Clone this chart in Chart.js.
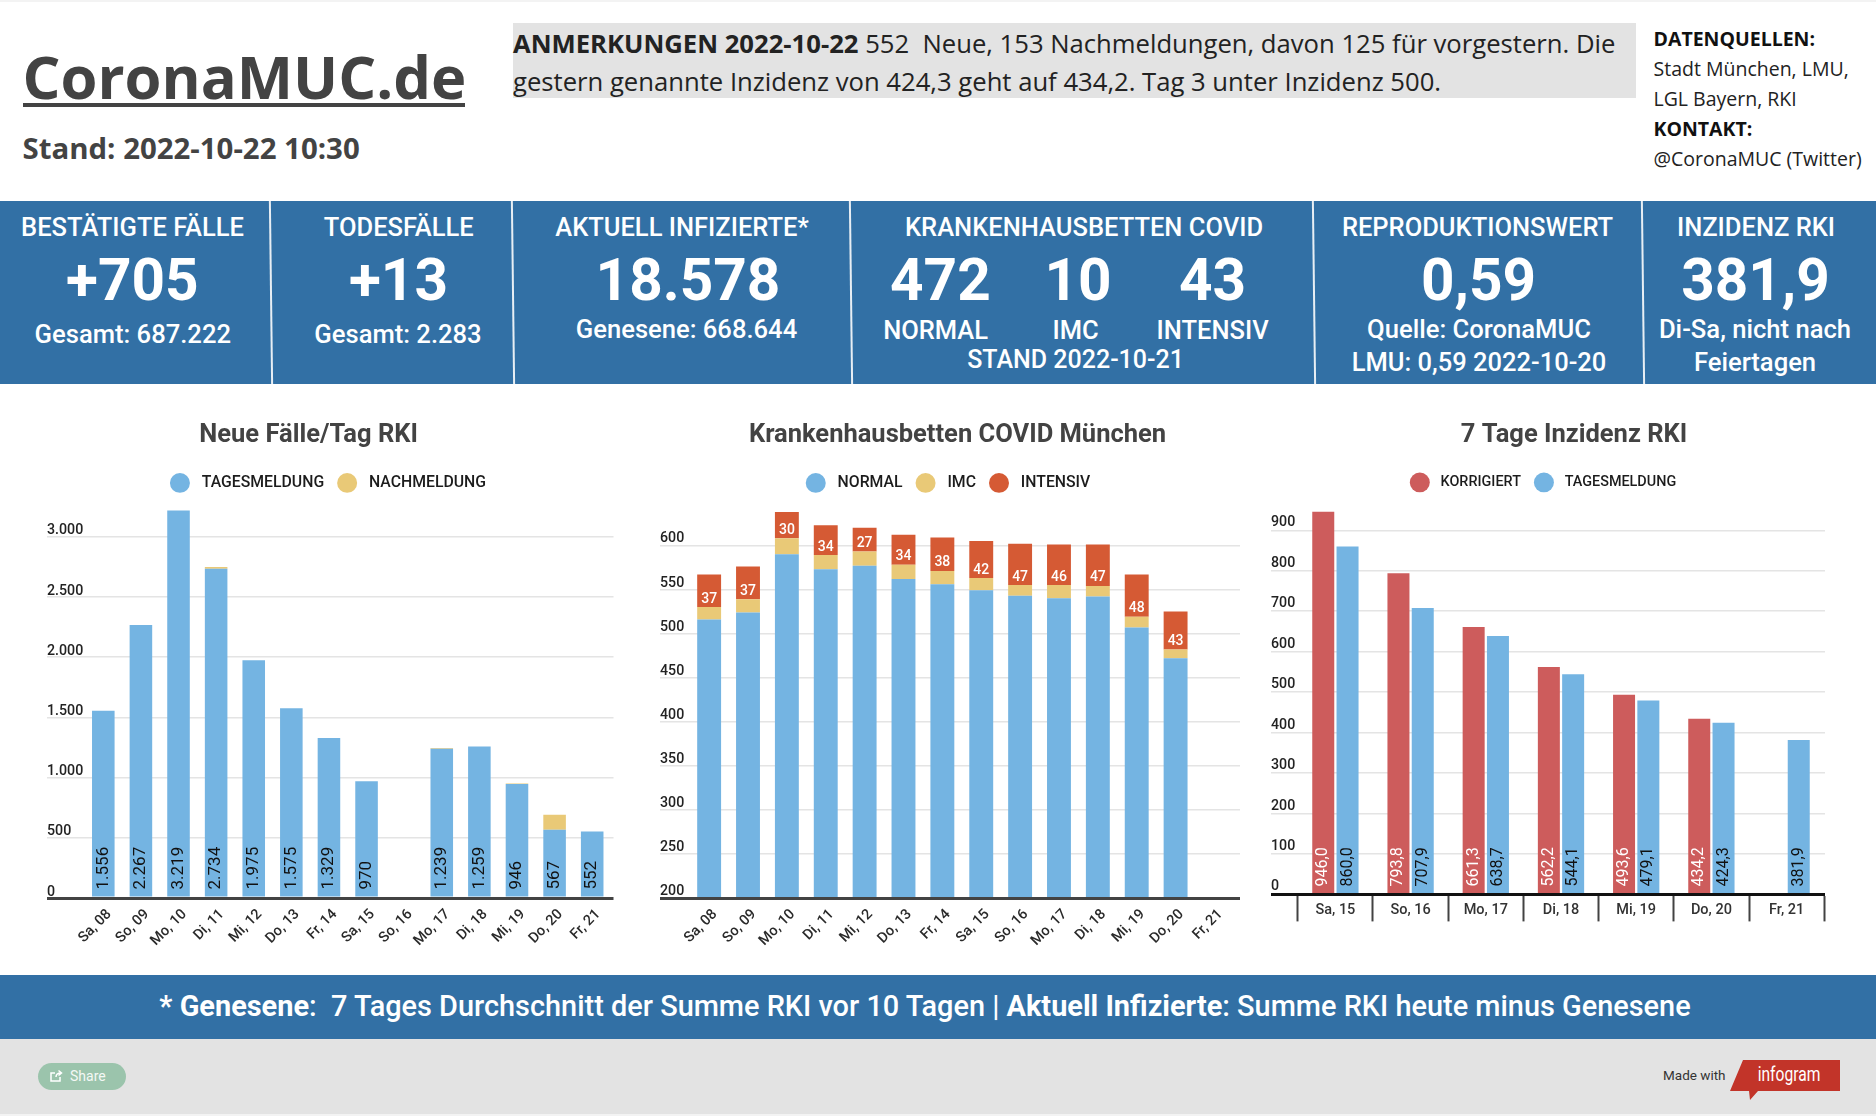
<!DOCTYPE html>
<html lang="de"><head><meta charset="utf-8"><title>CoronaMUC.de</title>
<script src="https://cdn.jsdelivr.net/npm/chart.js@4"></script>
<style>
html,body{margin:0;padding:0;background:#fff;}
#page{position:relative;width:1876px;height:1116px;overflow:hidden;background:#fff;}
.box{position:absolute;}
.t{position:absolute;white-space:pre;line-height:1;}
canvas{position:absolute;}
</style></head><body><div id="page">
<div class="box" style="left:0;top:0;width:1876px;height:2px;background:#f3f3f3"></div>
<div class="box" style="left:513px;top:23px;width:1122.500px;height:75px;background:#e3e3e3"></div>
<div class="box" style="left:23px;top:103px;width:442px;height:4px;background:#434343"></div>
<div class="box" style="left:0;top:201px;width:1876px;height:183px;background:#3270a5"></div>
<div class="box" style="left:0;top:975px;width:1876px;height:64px;background:#3270a5"></div>
<div class="box" style="left:0;top:1039px;width:1876px;height:75px;background:#e3e3e3"></div>
<div class="box" style="left:0;top:1114px;width:1876px;height:2px;background:#f3f3f3"></div>
<div class="box" style="left:38px;top:1063px;width:88px;height:27px;border-radius:14px;background:#9bc4ac"></div>
<div class="box" style="left:1730px;top:1060px;width:110px;height:40px;background:#c23429;clip-path:polygon(13px 0,110px 0,110px 31px,28px 31px,20px 40px,19px 31px,0 31px)"></div>
<svg class="box" style="left:49px;top:1069px" width="14" height="14" viewBox="0 0 14 14"><path d="M11 8v4H2V4h4M7 8c0-3 2-4 5-4M9.500 1.500 12.500 4 9.500 6.500" fill="none" stroke="#fff" stroke-width="1.500"/></svg>
<canvas id="c1" width="630" height="560" style="left:0;top:400px;width:630px;height:560px"></canvas>
<canvas id="c2" width="630" height="560" style="left:630px;top:400px;width:630px;height:560px"></canvas>
<canvas id="c3" width="626" height="560" style="left:1250px;top:400px;width:626px;height:560px"></canvas>
</div>
<script>
// ---- chart data ----
const days14 = ["Sa, 08","So, 09","Mo, 10","Di, 11","Mi, 12","Do, 13","Fr, 14","Sa, 15","So, 16","Mo, 17","Di, 18","Mi, 19","Do, 20","Fr, 21"];
const days7 = ["Sa, 15","So, 16","Mo, 17","Di, 18","Mi, 19","Do, 20","Fr, 21"];
const tagesmeldung = [1556,2267,3219,2734,1975,1575,1329,970,null,1239,1259,946,567,552];
const nachmeldung = [null,null,null,15,null,null,null,null,null,7,null,6,125,null];
const normal = [516,524,590,573,577,562,556,549,543,540,542,507,472,null];
const imc = [14,15,18,16,16,16,15,14,12,15,12,12,10,null];
const intensiv = [37,37,30,34,27,34,38,42,47,46,47,48,43,null];
const korrigiert = [946.0,793.8,661.3,562.2,493.6,434.2,null];
const inzidenzTages = [860.0,707.9,638.7,544.1,479.1,424.3,381.9];
const faelleTicks = [0,500,1000,1500,2000,2500,3000];
const bettenTicks = [200,250,300,350,400,450,500,550,600];
const inzidenzTicks = [0,100,200,300,400,500,600,700,800,900];

// ---- colours ----
const BLUE='#74b4e2', YELLOW='#e9c977', ORANGE='#d55a34', RED='#cd5c5c', GRID='#e4e4e4', DARK='#434343';

// ---- page text (Roboto / Open Sans, positioned by baseline) ----
const page=document.getElementById('page');
function txt(html,x,base,size,opt){
  opt=opt||{};
  const fam=opt.fam||'Roboto';
  const k=fam==='Roboto'?0.8415:0.888;
  const d=document.createElement('div');d.className='t';d.innerHTML=html;
  d.style.fontFamily="'"+fam+"',sans-serif";
  d.style.fontSize=size+'px';d.style.fontWeight=opt.w||400;d.style.color=opt.c||'#fff';
  d.style.top=(base-k*size)+'px';
  d.style.left=x+'px';
  if(opt.center)d.style.transform='translateX(-50%)'+(opt.sx?' scaleX('+opt.sx+')':'');
  page.appendChild(d);
}
txt('CoronaMUC.de',22.500,99,59.700,{fam:'Open Sans',w:700,c:DARK});
txt('Stand: 2022-10-22 10:30',22.500,160.500,29.400,{fam:'Open Sans',w:700,c:DARK});
txt('<b>ANMERKUNGEN 2022-10-22</b> 552 \u00a0Neue, 153 Nachmeldungen, davon 125 für vorgestern. Die',513,54,25.650,{fam:'Open Sans',c:'#222'});
txt('gestern genannte Inzidenz von 424,3 geht auf 434,2. Tag 3 unter Inzidenz 500.',513,91.500,25.650,{fam:'Open Sans',c:'#222'});
txt('DATENQUELLEN:',1653.500,46,19.500,{fam:'Open Sans',w:700,c:'#111'});
txt('Stadt München, LMU,',1653.500,76,19.500,{fam:'Open Sans',c:'#222'});
txt('LGL Bayern, RKI',1653.500,106,19.500,{fam:'Open Sans',c:'#222'});
txt('KONTAKT:',1653.500,136.500,19.500,{fam:'Open Sans',w:700,c:'#111'});
txt('@CoronaMUC (Twitter)',1653.500,166.500,19.500,{fam:'Open Sans',c:'#222'});
const C={center:true,w:500}, B={center:true,w:700};
const HB=236, BB=300.300, SB=339;
txt('BESTÄTIGTE FÄLLE',132.500,HB,25.500,C);
txt('+705',132.300,BB,58.500,B);
txt('Gesamt: 687.222',132.800,343.500,25.600,C);
txt('TODESFÄLLE',398.700,HB,25.500,C);
txt('+13',398.500,BB,58.500,B);
txt('Gesamt: 2.283',398,343.500,25.600,C);
txt('AKTUELL INFIZIERTE*',682,HB,25.500,C);
txt('18.578',688,BB,58.500,B);
txt('Genesene: 668.644',686.500,SB,25.600,C);
txt('KRANKENHAUSBETTEN COVID',1084,HB,25.500,C);
txt('472',940.400,BB,58.500,B);
txt('10',1078,BB,58.500,B);
txt('43',1212.600,BB,58.500,B);
txt('NORMAL',935.600,SB,25.500,C);
txt('IMC',1075.600,SB,25.500,C);
txt('INTENSIV',1212.600,SB,25.500,C);
txt('STAND 2022-10-21',1075.600,368.200,25,C);
txt('REPRODUKTIONSWERT',1477.500,HB,25.500,C);
txt('0,59',1478.500,BB,58.500,B);
txt('Quelle: CoronaMUC',1479,SB,25.600,C);
txt('LMU: 0,59 2022-10-20',1479,371.700,25.500,C);
txt('INZIDENZ RKI',1756,HB,25.500,C);
txt('381,9',1755.500,BB,58.500,B);
txt('Di-Sa, nicht nach',1755,SB,25.600,C);
txt('Feiertagen',1755,371.700,25.600,C);
txt('<b>* Genesene</b>: \u00a07 Tages Durchschnitt der Summe RKI vor 10 Tagen | <b>Aktuell Infizierte</b>: Summe RKI heute minus Genesene',925,1016.500,28.900,C);
txt('Share',70,1081,14,{c:'#f4f8f5'});
txt('Made with',1663,1080,13.500,{c:'#333'});
txt('infogram',1789,1081,20,{center:true,sx:0.78,w:400});
[270,512,850,1313,1641.500].forEach(x=>{
  const d=document.createElement('div');d.className='box';
  d.style.cssText='left:'+x+'px;top:201px;width:2px;height:183px;background:#e8eef4;transform:rotate(-0.7deg)';
  page.appendChild(d);
});

// ---- chart helpers ----
const tune={id:'tune',afterLayout(chart,args,o){
  const a=chart.chartArea;
  a.left=o.gridLeft; a.right=o.gridRight;
  const t=chart.titleBlock,l=chart.legend;
  const dt=o.titleX-(t.left+t.right)/2; t.left+=dt; t.right+=dt;
  const dl=o.legendX-(l.left+l.right)/2; l.left+=dl; l.right+=dl;
}};
const valueLabels={id:'valueLabels',afterDatasetsDraw(chart){
  const ctx=chart.ctx;
  chart.data.datasets.forEach((ds,i)=>{
    const v=ds.valueLabel; if(!v) return;
    chart.getDatasetMeta(i).data.forEach((el,j)=>{
      const val=ds.data[j]; if(val==null) return;
      ctx.save();
      ctx.font=v.font; ctx.fillStyle=v.color;
      ctx.translate(el.x,el.base-v.off);
      if(v.rotate){ctx.rotate(-Math.PI/2);ctx.textAlign='left';}
      else ctx.textAlign='center';
      ctx.textBaseline='middle';
      ctx.fillText(v.fmt(val),0,0);
      ctx.restore();
    });
  });
}};
const de0=v=>v.toLocaleString('de-DE');
const de1=v=>v.toLocaleString('de-DE',{minimumFractionDigits:1,maximumFractionDigits:1});
function makeChart(id,cfg){
  const zero=cfg.yTicks[0];
  return new Chart(document.getElementById(id),{
    type:'bar',
    data:{labels:cfg.labels,datasets:cfg.datasets},
    plugins:[tune,valueLabels],
    options:{
      responsive:false,animation:false,
      categoryPercentage:cfg.cat,barPercentage:cfg.bar,
      layout:{padding:{left:cfg.padL,right:cfg.padR,top:0,bottom:0}},
      plugins:{
        tooltip:{enabled:false},
        tune:{gridLeft:cfg.padL,gridRight:cfg.gridRight,titleX:cfg.titleX,legendX:cfg.legendX},
        title:{display:true,text:cfg.title,color:DARK,font:{family:'Roboto',size:25.500,weight:'700',lineHeight:1.2},padding:{top:19.900,bottom:cfg.titleGap}},
        legend:{display:true,position:'top',labels:{
          color:'#1c1c1c',font:{family:'Roboto',size:cfg.legendSize,weight:'500'},
          usePointStyle:true,pointStyle:'circle',pointStyleWidth:20,boxHeight:14,padding:13,
          generateLabels(ch){return Chart.defaults.plugins.legend.labels.generateLabels(ch).map(it=>{it.text=' '+it.text;return it;});}
        }}
      },
      scales:{
        x:cfg.x,
        y:{
          stacked:cfg.stacked,min:zero,max:cfg.max,
          afterFit(s){s.width=cfg.yWidth;},
          afterBuildTicks(s){s.ticks=cfg.yTicks.map(value=>({value}));},
          border:{display:false},
          grid:{drawTicks:false,color:c=>c.tick&&c.tick.value===zero?cfg.zeroColor:GRID,lineWidth:c=>c.tick&&c.tick.value===zero?3:1.500},
          ticks:{crossAlign:'far',labelOffset:cfg.yLabelOffset,padding:0,autoSkip:false,color:'#222',font:{family:'Roboto',size:14.200,weight:'500'},callback:v=>de0(v)}
        }
      }
    }
  });
}
function rotatedX(h,stacked){return{
  stacked,offset:true,afterFit(s){s.height=h;},
  grid:{display:false},
  border:{display:true,color:DARK,width:3,z:1},
  ticks:{autoSkip:false,maxRotation:45,minRotation:45,padding:0,labelOffset:6,color:'#2a2a2a',font:{family:'Roboto',size:14.500,weight:'500'}}
};}

makeChart('c1',{
  labels:days14,title:'Neue Fälle/Tag RKI',stacked:true,max:3299,yTicks:faelleTicks,cat:1,bar:0.6,yLabelOffset:-6,
  padL:47,padR:19,yWidth:37.500,gridRight:613.500,titleX:308.600,legendX:328,zeroColor:DARK,legendSize:15.800,titleGap:11.500,
  x:rotatedX(62,true),
  datasets:[
    {label:'TAGESMELDUNG',data:tagesmeldung,backgroundColor:BLUE,valueLabel:{font:"400 17px Roboto",color:'#111',rotate:true,off:7,fmt:de0}},
    {label:'NACHMELDUNG',data:nachmeldung,backgroundColor:YELLOW}
  ]
});
makeChart('c2',{
  labels:days14,title:'Krankenhausbetten COVID München',stacked:true,max:650.600,yTicks:bettenTicks,cat:1,bar:0.615,yLabelOffset:-6.500,
  padL:30,padR:26.100,yWidth:29.700,gridRight:610,titleX:327.500,legendX:318,zeroColor:DARK,legendSize:15.800,titleGap:11.500,
  x:rotatedX(62,true),
  datasets:[
    {label:'NORMAL',data:normal,backgroundColor:BLUE,valueLabel:{font:"500 14px Roboto",color:'#111',off:8.400,fmt:de0}},
    {label:'IMC',data:imc,backgroundColor:YELLOW},
    {label:'INTENSIV',data:intensiv,backgroundColor:ORANGE,valueLabel:{font:"500 14px Roboto",color:'#fff',off:8,fmt:de0}}
  ]
});
makeChart('c3',{
  labels:days7,title:'7 Tage Inzidenz RKI',stacked:false,max:976,yTicks:inzidenzTicks,cat:0.646,bar:0.906,yLabelOffset:-7.500,
  padL:21,padR:51.800,yWidth:26.800,gridRight:575,titleX:324,legendX:293,zeroColor:'#111',legendSize:14.400,titleGap:11.700,
  x:{
    offset:true,afterFit(s){s.height=65.600;},
    grid:{display:true,offset:true,drawOnChartArea:false,drawTicks:true,tickLength:27,tickColor:DARK,tickWidth:2},
    border:{display:true,color:'#111',width:3,z:1},
    ticks:{autoSkip:false,maxRotation:0,padding:-20,color:'#333',font:{family:'Roboto',size:14.500,weight:'500'}}
  },
  datasets:[
    {label:'KORRIGIERT',data:korrigiert,backgroundColor:RED,valueLabel:{font:"400 16px Roboto",color:'#fff',rotate:true,off:6.500,fmt:de1}},
    {label:'TAGESMELDUNG',data:inzidenzTages,backgroundColor:BLUE,valueLabel:{font:"400 16px Roboto",color:'#111',rotate:true,off:6.500,fmt:de1}}
  ]
});
</script></body></html>
